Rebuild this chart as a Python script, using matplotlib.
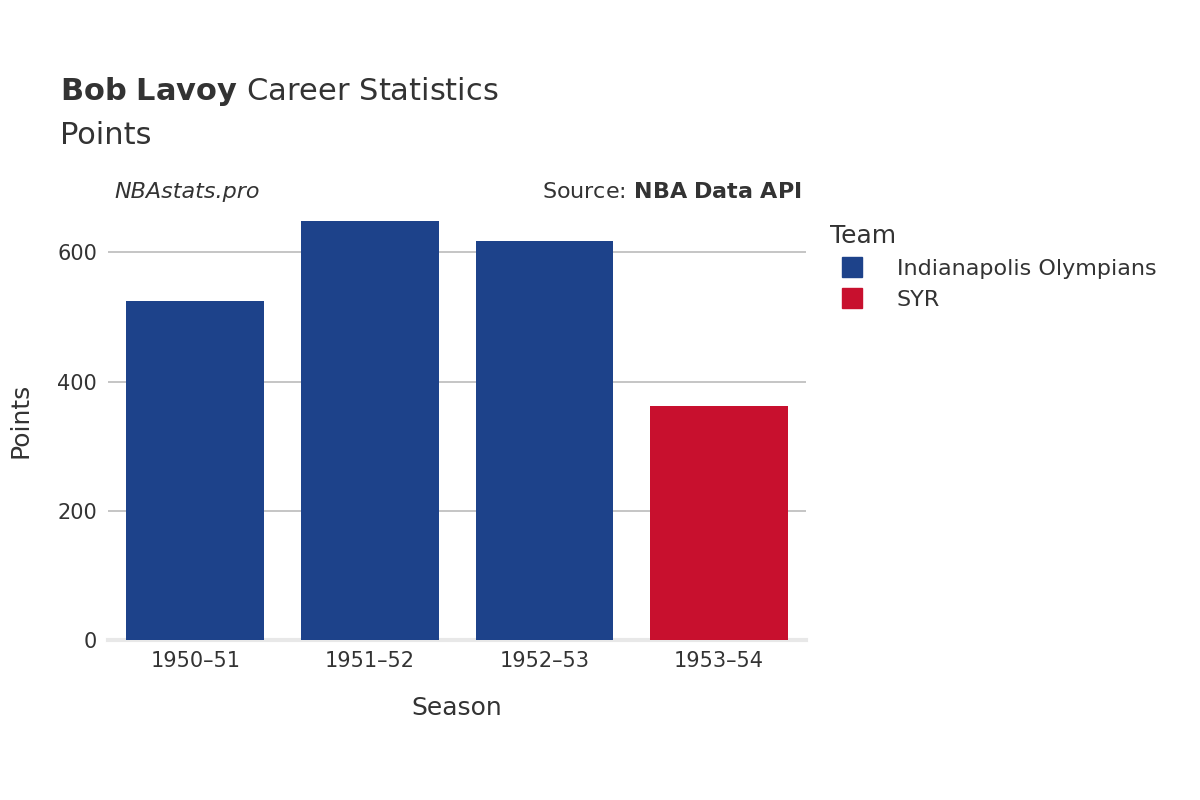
import matplotlib.pyplot as plt
from matplotlib.lines import Line2D

seasons = ['1950–51', '1951–52', '1952–53', '1953–54']
points = [525, 648, 617, 363]
teams = ['Indianapolis Olympians', 'Indianapolis Olympians', 'Indianapolis Olympians', 'SYR']
team_colors = {'Indianapolis Olympians': '#1d428a', 'SYR': '#c8102e'}

fig = plt.figure(figsize=(12, 8), dpi=100)
ax = fig.add_axes([0.09, 0.2, 0.582, 0.549])
x = range(len(seasons))
ax.bar(x, points, width=0.79, color=[team_colors[t] for t in teams], zorder=3)
ax.set_xlim(-0.5, 3.5)
ax.set_ylim(0, 680)
ax.set_yticks([0, 200, 400, 600])
ax.set_xticks(list(x))
ax.set_xticklabels(seasons)
ax.grid(axis='y', color='#bbbbbb', linewidth=1.2, zorder=0)
for s in ['top', 'right', 'left']:
    ax.spines[s].set_visible(False)
ax.spines['bottom'].set_color('#e8e8e8')
ax.spines['bottom'].set_linewidth(3)
ax.tick_params(length=0, labelsize=15, colors='#333333', pad=8)
ax.set_xlabel('Season', fontsize=18, color='#333333', labelpad=18)
ax.set_ylabel('Points', fontsize=18, color='#333333', labelpad=18)

fig.text(0.05, 0.875, r'$\bf{Bob\ Lavoy}$ Career Statistics', fontsize=22, color='#333333')
fig.text(0.05, 0.82, 'Points', fontsize=22, color='#333333')
fig.text(0.095, 0.752, 'NBAstats.pro', fontsize=16, style='italic', color='#333333')
fig.text(0.668, 0.752, r'Source: $\bf{NBA\ Data\ API}$', fontsize=16, color='#333333', ha='right')

handles = [Line2D([], [], marker='s', linestyle='', markersize=15, color=c) for c in team_colors.values()]
leg = fig.legend(handles, list(team_colors.keys()), title='Team', loc='upper left',
                 bbox_to_anchor=(0.675, 0.745), frameon=False, fontsize=16,
                 title_fontsize=18, labelcolor='#333333', handletextpad=1.0)
leg.get_title().set_color('#333333')
leg._legend_box.align = 'left'

fig.savefig('out.png')
